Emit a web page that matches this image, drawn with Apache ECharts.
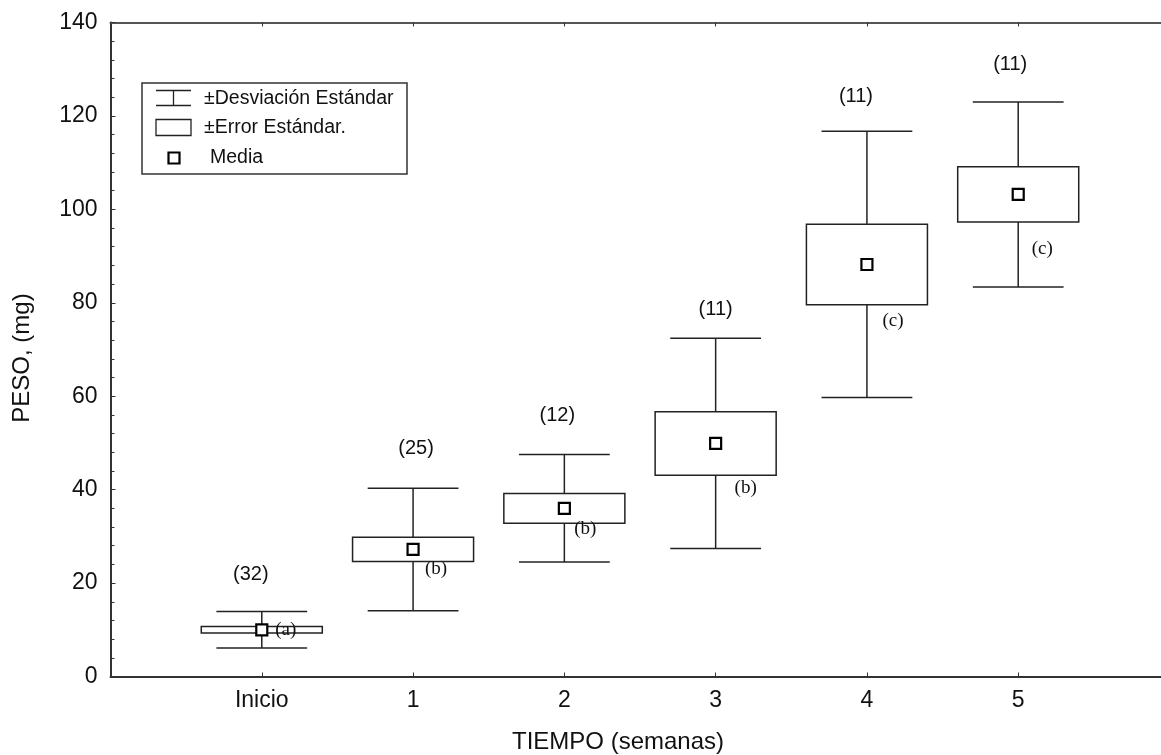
<!DOCTYPE html>
<html>
<head>
<meta charset="utf-8">
<script src="https://cdn.jsdelivr.net/npm/echarts@6/dist/echarts.min.js"></script>
<style>
html,body{margin:0;padding:0;background:#fff;}
#chart{width:1161px;height:755px;}
</style>
</head>
<body>
<div id="chart"></div>
<script>
// ---- data ----
const categories = ['Inicio', '1', '2', '3', '4', '5'];
const means = [10.0, 27.2, 36.0, 49.9, 88.2, 103.2];
const stdErr = [0.7, 2.6, 3.2, 6.8, 8.6, 5.9];
const stdDev = [3.9, 13.1, 11.5, 22.5, 28.5, 19.8];
const nLabels = ['(32)', '(25)', '(12)', '(11)', '(11)', '(11)'];
const groupLetters = ['(a)', '(b)', '(b)', '(b)', '(c)', '(c)'];
const yTicks = [0, 20, 40, 60, 80, 100, 120, 140];
const xTitle = 'TIEMPO (semanas)';
const yTitle = 'PESO, (mg)';

// ---- rendering-only offsets (pixels) ----
const nLabelDx = [-11, 3, -7, 0, -11, -8];
const nLabelDy = [-37, -40, -39, -29, -35, -37];
const letterDx = [24, 23, 21, 30, 26, 24];
const letterDy = [0, 7, 6, 13, 16, 27];

const seriesData = categories.map((c, i) => [i, means[i], stdErr[i], stdDev[i]]);

const chart = echarts.init(document.getElementById('chart'));
const LINE = '#222';
const TXT = '#111';
const SANS = '"Liberation Sans", Arial, sans-serif';

function renderItem(params, api) {
  const i = api.value(0);
  const m = api.value(1), se = api.value(2), sd = api.value(3);
  const c = api.coord([i, m]);
  const top = api.coord([i, m + sd]);
  const bot = api.coord([i, m - sd]);
  const bTop = api.coord([i, m + se]);
  const bBot = api.coord([i, m - se]);
  const capW = api.size([0.6, 0])[0];
  const boxW = api.size([0.8, 0])[0];
  const children = [
    { type: 'line', shape: { x1: c[0], y1: top[1], x2: c[0], y2: bot[1] }, style: { stroke: LINE, lineWidth: 1.5 } },
    { type: 'line', shape: { x1: c[0] - capW / 2, y1: top[1], x2: c[0] + capW / 2, y2: top[1] }, style: { stroke: LINE, lineWidth: 1.5 } },
    { type: 'line', shape: { x1: c[0] - capW / 2, y1: bot[1], x2: c[0] + capW / 2, y2: bot[1] }, style: { stroke: LINE, lineWidth: 1.5 } },
    { type: 'rect', shape: { x: c[0] - boxW / 2, y: bTop[1], width: boxW, height: bBot[1] - bTop[1] }, style: { fill: '#fff', stroke: LINE, lineWidth: 1.5 } },
    { type: 'rect', shape: { x: c[0] - 5.5, y: c[1] - 5.5, width: 11, height: 11 }, style: { fill: '#fff', stroke: '#000', lineWidth: 2.2 } },
    { type: 'text', x: c[0] + nLabelDx[i], y: top[1] + nLabelDy[i], style: { text: nLabels[i], fill: TXT, font: '20px ' + SANS, align: 'center', verticalAlign: 'middle' } },
    { type: 'text', x: c[0] + letterDx[i], y: (i === 0 ? c[1] : bBot[1]) + letterDy[i], style: { text: groupLetters[i], fill: TXT, font: '19px "Liberation Serif", "Times New Roman", serif', align: 'center', verticalAlign: 'middle' } }
  ];
  return { type: 'group', children: children };
}

const legendX = 142, legendY = 83;
const option = {
  animation: false,
  backgroundColor: '#fff',
  grid: { left: 110.5, top: 22.5, width: 1059, height: 654, containLabel: false, outerBoundsMode: 'none' },
  xAxis: [
    {
      type: 'value', min: -1, max: 6, interval: 1,
      axisLine: { show: true, onZero: false, lineStyle: { color: '#333', width: 2 } },
      axisTick: { show: true, inside: true, length: 4, lineStyle: { color: '#333' } },
      axisLabel: {
        margin: 13, color: TXT, fontSize: 23, fontFamily: SANS,
        formatter: v => (v >= 0 && v < categories.length) ? categories[v] : ''
      },
      splitLine: { show: false }
    },
    {
      type: 'value', position: 'top', min: -1, max: 6, interval: 1,
      axisLine: { show: true, onZero: false, lineStyle: { color: '#555', width: 2 } },
      axisTick: { show: true, inside: true, length: 4, lineStyle: { color: '#333' } },
      axisLabel: { show: false }, splitLine: { show: false }
    }
  ],
  yAxis: {
    type: 'value', min: 0, max: 140, interval: 20,
    axisLine: { show: true, onZero: false, lineStyle: { color: '#333', width: 2 } },
    axisTick: { show: true, inside: true, length: 5, lineStyle: { color: '#333' } },
    minorTick: { show: true, splitNumber: 5, length: 4, lineStyle: { color: '#333' } },
    axisLabel: {
      margin: 13, color: TXT, fontSize: 23, fontFamily: SANS,
      formatter: v => yTicks.indexOf(v) >= 0 ? String(v) : ''
    },
    splitLine: { show: false }
  },
  series: [{
    type: 'custom', renderItem: renderItem, data: seriesData,
    encode: { x: 0, y: 1 }, clip: false
  }],
  graphic: [
    { type: 'text', x: 618, y: 742, style: { text: xTitle, fill: TXT, font: '24px ' + SANS, align: 'center', verticalAlign: 'middle' } },
    { type: 'text', x: 22, y: 358, rotation: Math.PI / 2, style: { text: yTitle, fill: TXT, font: '24px ' + SANS, align: 'center', verticalAlign: 'middle' } },
    { type: 'rect', shape: { x: legendX, y: legendY, width: 265, height: 91 }, style: { fill: '#fff', stroke: '#333', lineWidth: 1.5 }, z: 10 },
    { type: 'line', shape: { x1: 156, y1: 90.5, x2: 191, y2: 90.5 }, style: { stroke: LINE, lineWidth: 1.3 }, z: 11 },
    { type: 'line', shape: { x1: 156, y1: 105.5, x2: 191, y2: 105.5 }, style: { stroke: LINE, lineWidth: 1.3 }, z: 11 },
    { type: 'line', shape: { x1: 173.5, y1: 90.5, x2: 173.5, y2: 105.5 }, style: { stroke: LINE, lineWidth: 1.3 }, z: 11 },
    { type: 'rect', shape: { x: 156, y: 119.5, width: 35, height: 16 }, style: { fill: '#fff', stroke: LINE, lineWidth: 1.3 }, z: 11 },
    { type: 'rect', shape: { x: 168.5, y: 152.5, width: 11, height: 11 }, style: { fill: '#fff', stroke: '#000', lineWidth: 2.2 }, z: 11 },
    { type: 'text', x: 204, y: 99, style: { text: '±Desviación Estándar', fill: TXT, font: '19.5px ' + SANS, verticalAlign: 'middle' }, z: 11 },
    { type: 'text', x: 204, y: 128, style: { text: '±Error Estándar.', fill: TXT, font: '19.5px ' + SANS, verticalAlign: 'middle' }, z: 11 },
    { type: 'text', x: 210, y: 158, style: { text: 'Media', fill: TXT, font: '19.5px ' + SANS, verticalAlign: 'middle' }, z: 11 }
  ]
};
chart.setOption(option);
</script>
</body>
</html>
